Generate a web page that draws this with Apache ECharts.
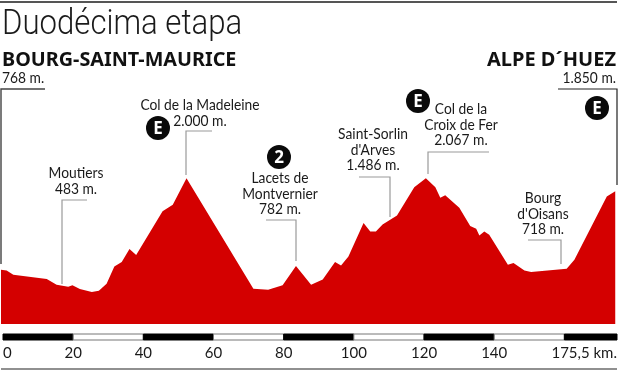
<!DOCTYPE html>
<html>
<head>
<meta charset="utf-8">
<style>
  html, body { margin: 0; padding: 0; background: #fff; }
  #main { width: 622px; height: 374px; }
</style>
<script src="https://cdn.jsdelivr.net/npm/echarts@6/dist/echarts.min.js"></script>
</head>
<body>
<div id="main"></div>
<script>
// perfil de la etapa: km y altitud
const km = [0, 1.6, 3.5, 13, 15.8, 19.1, 20.3, 22.4, 25.8, 27.8, 30, 32.2, 34.3, 36.5, 38.4, 45.9, 48.8, 52.7,
  71.7, 75.9, 80, 83.8, 88.1, 91.4, 94.9, 96.6, 98.7, 103, 104.9, 106.5, 108.4, 112.5, 117.4, 120.7,
  123.4, 124.8, 126.2, 130.2, 133.3, 135, 135.9, 137.3, 138.7, 144, 145.6, 148.7, 150.6, 160.7, 162.9, 172.1, 174.5];
const altitude = [745, 735, 676, 617, 539, 511, 530, 480, 438, 457, 553, 790, 849, 1028, 945, 1548, 1635, 2000,
  484, 470, 530, 795, 539, 612, 849, 804, 927, 1384, 1270, 1270, 1365, 1489, 1877, 2000,
  1877, 1731, 1767, 1594, 1343, 1306, 1215, 1270, 1224, 813, 836, 735, 712, 758, 881, 1749, 1822];

// tramos de la regla inferior
const scaleStart = [0, 20, 40, 60, 80, 100, 120, 140, 160];
const scaleEnd = [20, 40, 60, 80, 100, 120, 140, 160, 175];
const tickValues = [0, 20, 40, 60, 80, 100, 120, 140, 175];
const tickLabels = ['0', '20', '40', '60', '80', '100', '120', '140', '175,5 km.'];

const titleText = 'Duodécima etapa';
const startName = 'BOURG-SAINT-MAURICE';
const startHeight = '768 m.';
const endName = 'ALPE D´HUEZ';
const endHeight = '1.850 m.';

const RED = '#d40000';
const LABEL_FONT = 'Lato, "Noto Sans", sans-serif';

const profile = km.map((k, i) => [k, altitude[i]]);
const scaleData = scaleStart.map((s, i) => [s, scaleEnd[i], i % 2]);

function label(text, x, y, align) {
    return {
        type: 'text', x: x, y: y, scaleX: 0.92,
        style: { text: text, font: '15px ' + LABEL_FONT, fill: '#1a1a1a', align: align || 'center', verticalAlign: 'middle', lineHeight: 15.5 }
    };
}
function leader(points, color, width) {
    return {
        type: 'polyline',
        shape: { points: points },
        style: { stroke: color || '#9a9a9a', lineWidth: width || 1.2, fill: null }
    };
}
function badge(text, x, y) {
    return {
        type: 'group', x: x, y: y,
        children: [
            { type: 'circle', shape: { cx: 0, cy: 0, r: 12 }, style: { fill: '#0a0a0a' } },
            { type: 'text', style: { text: text, x: 0, y: 1, font: 'bold 17px "Open Sans", sans-serif', fill: '#fff', align: 'center', verticalAlign: 'middle' } }
        ]
    };
}

let chart = echarts.init(document.getElementById('main'), null, { renderer: 'canvas' });
chart.setOption({
    animation: false,
    backgroundColor: '#fff',
    grid: [
        { left: 1, width: 616, top: 160, height: 164 },
        { left: 1, width: 616, top: 334, height: 6 }
    ],
    xAxis: [
        { gridIndex: 0, type: 'value', min: 0, max: 175, show: false },
        {
            gridIndex: 1, type: 'value', min: 0, max: 175,
            axisLine: { show: false },
            axisTick: { show: false },
            splitLine: { show: false },
            axisLabel: {
                customValues: tickValues,
                formatter: v => tickLabels[tickValues.indexOf(v)],
                alignMinLabel: 'left',
                alignMaxLabel: 'right',
                margin: 6,
                color: '#1a1a1a',
                fontFamily: 'Lato, "Noto Sans", sans-serif',
                fontSize: 15
            }
        }
    ],
    yAxis: [
        { gridIndex: 0, type: 'value', min: 0, max: 2250, show: false },
        { gridIndex: 1, type: 'value', min: 0, max: 1, show: false }
    ],
    series: [
        {
            type: 'line',
            xAxisIndex: 0, yAxisIndex: 0,
            data: profile,
            symbol: 'none',
            lineStyle: { width: 0 },
            areaStyle: { color: RED, opacity: 1 }
        },
        {
            type: 'custom',
            xAxisIndex: 1, yAxisIndex: 1,
            data: scaleData,
            encode: { x: [0, 1] },
            renderItem: (params, api) => {
                const a = api.coord([api.value(0), 1]);
                const b = api.coord([api.value(1), 0]);
                const isWhite = api.value(2) === 1;
                return {
                    type: 'rect',
                    shape: { x: a[0], y: a[1], width: b[0] - a[0], height: b[1] - a[1] },
                    style: { fill: isWhite ? '#fff' : '#000', stroke: isWhite ? '#777' : '#000', lineWidth: 1 }
                };
            }
        }
    ],
    graphic: [
        { type: 'rect', shape: { x: 0, y: 1, width: 617, height: 2 }, style: { fill: '#555' } },
        { type: 'rect', shape: { x: 1, y: 368.5, width: 616, height: 1 }, style: { fill: '#222' } },
        { type: 'text', x: 2, y: 25, scaleX: 0.89, style: { text: titleText, font: '300 35px Roboto, sans-serif', fill: '#1a1a1a', verticalAlign: 'middle' } },
        { type: 'text', x: 2, y: 60.5, style: { text: startName, font: 'bold 19.8px "Noto Sans", sans-serif', fill: '#111', verticalAlign: 'middle' } },
        { type: 'text', x: 616, y: 60.5, style: { text: endName, font: 'bold 20px "Noto Sans", sans-serif', fill: '#111', align: 'right', verticalAlign: 'middle' } },
        label(startHeight, 2, 78, 'left'),
        label(endHeight, 616, 78, 'right'),
        leader([[45, 89], [1, 89], [1, 264]], '#444', 1.4),
        leader([[558, 89], [617, 89], [617, 185]], '#222', 1.2),
        leader([[87, 200], [62, 200], [62, 284]]),
        leader([[212, 131], [186, 131], [186, 175]]),
        leader([[266, 220], [296, 220], [296, 261]]),
        leader([[359, 177], [390, 177], [390, 217]]),
        leader([[489, 152], [428, 152], [428, 174]]),
        leader([[528, 240], [561, 240], [561, 264]]),
        label('Moutiers\n483 m.', 76, 181),
        label('Col de la Madeleine\n2.000 m.', 200, 113),
        label('Lacets de\nMontvernier\n782 m.', 280, 194),
        label('Saint-Sorlin\nd\'Arves\n1.486 m.', 373, 150),
        label('Col de la\nCroix de Fer\n2.067 m.', 461, 125),
        label('Bourg\nd\'Oisans\n718 m.', 543, 214),
        badge('E', 158, 128),
        badge('2', 279, 157),
        badge('E', 418, 101),
        badge('E', 597, 108)
    ]
});
</script>
</body>
</html>
